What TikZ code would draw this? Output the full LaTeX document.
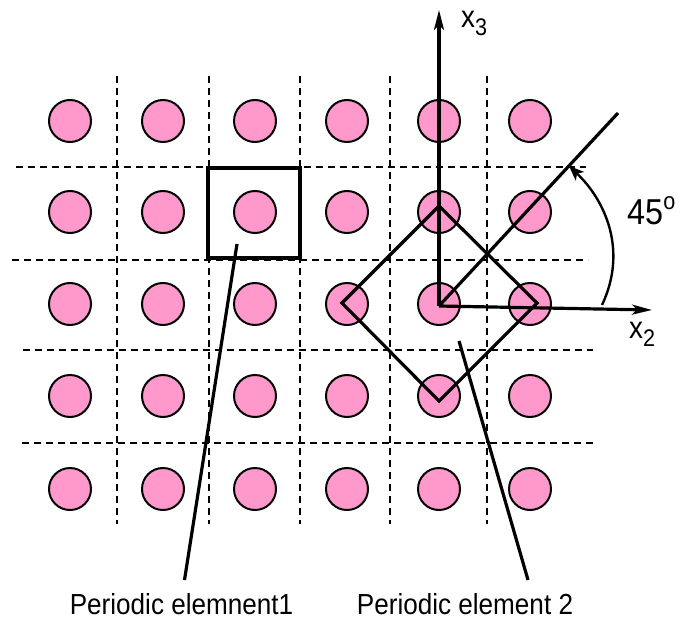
\documentclass[tikz,border=0pt]{standalone}
\usepackage{fontspec}
\setmainfont{Liberation Sans}
\newfontfamily\labfont[FakeStretch=0.9]{Liberation Sans}
\usetikzlibrary{arrows.meta}
\definecolor{dotpink}{HTML}{FF99CC}
\begin{document}
\begin{tikzpicture}[x=1pt,y=-1pt,
  dot/.style={circle,draw=black,line width=2pt,fill=dotpink,minimum size=42pt,inner sep=0pt},
  gridline/.style={line width=1.6pt,dash pattern=on 7pt off 5pt},
  boldline/.style={line width=3.2pt,line join=miter},
  axis/.style={boldline,-{Stealth[length=20pt,width=10pt,inset=5pt]}},
  arcarrow/.style={line width=2.4pt,-{Stealth[length=15pt,width=12pt,inset=4pt]}},
  lab/.style={inner sep=0pt,font=\labfont\fontsize{29}{29}\selectfont}]
\useasboundingbox (0,0) rectangle (684,631);
% dashed grid
\foreach \gx in {117,209,300,390,487}
  \draw[gridline] (\gx,76) -- (\gx,524);
\draw[gridline] (16,167) -- (586,167);
\draw[gridline] (12,260) -- (588,260);
\draw[gridline] (23,350) -- (593,350);
\draw[gridline] (22,443) -- (597,443);
% dots
\foreach \cx [count=\i] in {70,163,255,347,439,530}
  \foreach \cy [count=\j] in {121,212,304,396,489}
    \node[dot] (c-\j-\i) at (\cx,\cy) {};
% periodic element 1 (square)
\draw[boldline] (208,168) rectangle (300,258);
% periodic element 2 (diamond)
\coordinate (dT) at (439,206);
\coordinate (dR) at (537,303);
\coordinate (dB) at (439,401);
\coordinate (dL) at (342,303);
\draw[boldline] (dT) -- (dR) -- (dB) -- (dL) -- cycle;
% axes
\coordinate (O) at (439,306);
\coordinate (X3) at (439,10);
\coordinate (X2) at (652,310);
\coordinate (D) at (618,113);
\draw[axis] (O) -- (X3);
\draw[axis] (O) -- (X2);
\draw[boldline] (O) -- (D);
% angle arc
\coordinate (arcS) at (602,305);
\coordinate (arcE) at (569,166);
\draw[arcarrow] (arcS) .. controls (628,250) and (605,200) .. (arcE);
% labels
\node[lab,anchor=base] (lab1) at (181.5,614) {Periodic elemnent1};
\node[lab,anchor=base] (lab2) at (465,614) {Periodic element 2};
\node[inner sep=0pt,anchor=base west,font=\labfont\fontsize{31}{31}\selectfont] (x3lab) at (461,28) {x\raisebox{-8pt}{\fontsize{24}{24}\selectfont 3}};
\node[inner sep=0pt,anchor=base west,font=\labfont\fontsize{31}{31}\selectfont] (x2lab) at (629,338) {x\raisebox{-8pt}{\fontsize{24}{24}\selectfont 2}};
\node[inner sep=0pt,anchor=base west,font=\labfont\fontsize{36}{36}\selectfont] (anglab) at (627,224) {45\raisebox{15pt}{\fontsize{24}{24}\selectfont o}};
% leader lines
\coordinate (l1a) at (237,244);
\coordinate (l1b) at (184.5,580);
\coordinate (l2a) at (459,341);
\coordinate (l2b) at (528,580);
\draw[boldline] (l1a) -- (l1b);
\draw[boldline] (l2a) -- (l2b);
\end{tikzpicture}
\end{document}
